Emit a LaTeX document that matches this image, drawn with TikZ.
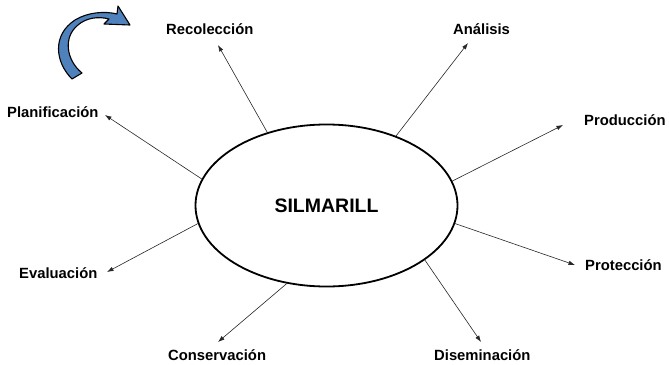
\documentclass[tikz,border=0pt]{standalone}
\usepackage{fontspec}
\setmainfont{Liberation Sans}
\usetikzlibrary{shapes.geometric,arrows.meta}

\definecolor{cyclefill}{RGB}{79,129,189}

\tikzset{
  core/.style={draw=black, line width=1.8pt, ellipse, inner sep=0pt,
    minimum width=262pt, minimum height=162pt,
    font=\fontsize{19.5}{22}\selectfont\bfseries},
  phase/.style={anchor=base west, inner sep=0pt,
    font=\fontsize{14.8}{17}\selectfont\bfseries},
  link/.style={draw=black!85, line width=0.6pt,
    -{Latex[length=6.5pt,width=4.5pt]}},
  turn/.style={fill=cyclefill, draw=black, line width=1.1pt, line join=round}
}

\begin{document}
\begin{tikzpicture}[x=1pt,y=-1pt]
  \useasboundingbox (0,0) rectangle (669,364);

  % central element
  \node[core] (c) at (326.5,205.5) {SILMARILL};

  % phase labels
  \node[phase] (recol) at (166,34)  {Recolección};
  \node[phase] (anal)  at (453,34)  {Análisis};
  \node[phase] (prod)  at (584,125) {Producción};
  \node[phase] (prot)  at (585,270) {Protección};
  \node[phase] (disem) at (434,360) {Diseminación};
  \node[phase] (conse) at (168,360) {Conservación};
  \node[phase] (evalu) at (19,278)  {Evaluación};
  \node[phase] (plan)  at (7,117)   {Planificación};

  % arrow tips next to each label
  \coordinate (trecol) at (218,45);
  \coordinate (tanal)  at (468,43);
  \coordinate (tprod)  at (563,125);
  \coordinate (tprot)  at (575,265);
  \coordinate (tdisem) at (481,342);
  \coordinate (tconse) at (218,342);
  \coordinate (tevalu) at (107,272);
  \coordinate (tplan)  at (105,115);

  % connectors from the ellipse
  \draw[link] (c.129.2) -- (trecol);
  \draw[link] (c.45)    -- (tanal);
  \draw[link] (c.11.9)  -- (tprod);
  \draw[link] (c.-8.8)  -- (tprot);
  \draw[link] (c.-29)   -- (tdisem);
  \draw[link] (c.-117.8)-- (tconse);
  \draw[link] (c.188.6) -- (tevalu);
  \draw[link] (c.168)   -- (tplan);

  % curved cycle arrow
  \draw[turn] (72,79) .. controls (55,62) and (52,35) .. (75,20)
    .. controls (88,12) and (105,11) .. (117,14)
    -- (118,6) -- (130,25) -- (104,24) -- (109,19)
    .. controls (98,16) and (86,18) .. (78,25)
    .. controls (63,37) and (66,60) .. (82,73) -- cycle;
\end{tikzpicture}
\end{document}
